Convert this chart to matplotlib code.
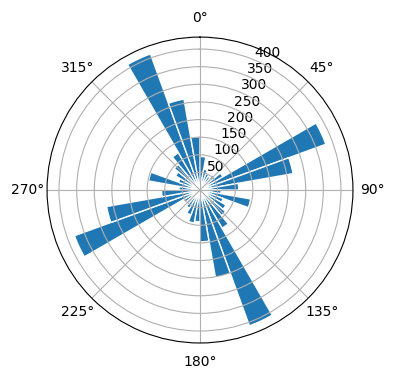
import numpy as np
import matplotlib
matplotlib.use("Agg")
import matplotlib.pyplot as plt

# counts per 10-degree direction bin, starting at 0 deg (clockwise from north)
bin_starts_deg = list(range(0, 360, 10))
counts = [95, 60, 50, 45, 55, 75, 380, 268, 110, 60, 146, 70,
          85, 95, 125, 410, 252, 147, 90, 95, 75, 60, 50, 55,
          379, 269, 109, 60, 148, 65, 80, 95, 122, 411, 262, 151]
bin_width_deg = 10

fig = plt.figure(figsize=(3.96, 3.8), dpi=100)
ax = fig.add_axes([0.1187, 0.0974, 0.7727, 0.805], projection="polar")
ax.set_theta_zero_location("N")
ax.set_theta_direction(-1)

theta = np.deg2rad(bin_starts_deg)
ax.bar(theta, counts, width=np.deg2rad(bin_width_deg), align="edge",
       color="#1f77b4", edgecolor="white", linewidth=1)

ax.set_ylim(0, 434)
ax.set_yticks([50, 100, 150, 200, 250, 300, 350, 400])

fig.savefig("out.png", dpi=100)
